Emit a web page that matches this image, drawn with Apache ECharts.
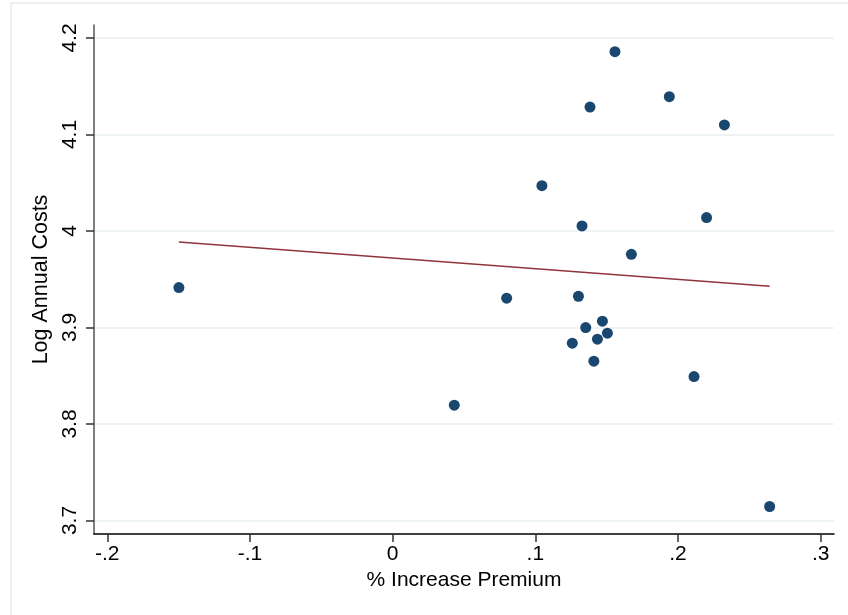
<!DOCTYPE html>
<html>
<head>
<meta charset="utf-8">
<script src="https://cdn.jsdelivr.net/npm/echarts@6/dist/echarts.min.js"></script>
<style>
  html, body { margin: 0; padding: 0; background: #ffffff; }
  #chart { width: 848px; height: 615px; }
</style>
</head>
<body>
<div id="chart"></div>
<script>
// Observations: % increase in premium vs. log annual costs
const premiumIncrease = [0.1558, 0.1383, 0.1939, 0.2325, 0.1046, 0.2200, 0.1327, 0.1673, 0.0799, 0.1302,
                         0.1470, 0.1353, 0.1505, 0.1435, 0.1259, 0.1410, 0.2112, 0.0432, -0.1498, 0.2642];
const logAnnualCosts  = [4.1858, 4.1285, 4.1392, 4.1099, 4.0470, 4.0139, 4.0053, 3.9759, 3.9304, 3.9324,
                         3.9065, 3.8999, 3.8941, 3.8879, 3.8838, 3.8651, 3.8492, 3.8195, 3.9414, 3.7145];

// Fitted line endpoints
const fitPremium = [-0.1498, 0.2642];
const fitCosts   = [3.9887, 3.9428];

// Tick values
const xTicks = [-0.2, -0.1, 0, 0.1, 0.2, 0.3];
const yTicks = [3.7, 3.8, 3.9, 4.0, 4.1, 4.2];

const points = premiumIncrease.map((x, i) => [x, logAnnualCosts[i]]);
const fitLine = fitPremium.map((x, i) => [x, fitCosts[i]]);

// Stata-style number labels: drop the leading zero
const fmt = v => {
  const r = Math.round(v * 10) / 10;
  if (r === 0) return '0';
  return String(r).replace(/^(-?)0\./, '$1.');
};

const FONT = 'Liberation Sans, Arial, sans-serif';

const chart = echarts.init(document.getElementById('chart'), null, { renderer: 'canvas' });
chart.setOption({
  backgroundColor: '#ffffff',
  animation: false,
  graphic: [{
    type: 'rect',
    shape: { x: 11, y: 3, width: 900, height: 700 },
    style: { fill: 'none', stroke: '#e6edf0', lineWidth: 1.5 },
    silent: true,
    z: -10
  }],
  grid: { left: 94, right: 14, top: 25, bottom: 81, containLabel: false },
  xAxis: {
    type: 'value',
    min: -0.2093,
    max: 0.3093,
    name: '% Increase Premium',
    nameLocation: 'middle',
    nameGap: 33,
    nameTextStyle: { fontFamily: FONT, fontSize: 21, color: '#000' },
    axisLine: { show: true, onZero: false, lineStyle: { color: '#000', width: 1.5 } },
    axisTick: { show: true, length: 8, customValues: xTicks, lineStyle: { color: '#333', width: 1.5 } },
    axisLabel: { customValues: xTicks, formatter: fmt, margin: 10, fontFamily: FONT, fontSize: 21, color: '#000' },
    splitLine: { show: false }
  },
  yAxis: {
    type: 'value',
    min: 3.686,
    max: 4.2135,
    name: 'Log Annual Costs',
    nameLocation: 'middle',
    nameGap: 40,
    nameTextStyle: { fontFamily: FONT, fontSize: 21.5, color: '#000' },
    axisLine: { show: true, onZero: false, lineStyle: { color: '#555', width: 1.5 } },
    axisTick: { show: true, length: 8, customValues: yTicks, lineStyle: { color: '#333', width: 1.5 } },
    axisLabel: { customValues: yTicks, formatter: fmt, rotate: 90, margin: 13, fontFamily: FONT, fontSize: 21, color: '#000' },
    splitLine: { show: true, lineStyle: { color: '#e8f0f3', width: 1.5 } }
  },
  series: [
    {
      type: 'scatter',
      data: points,
      symbol: 'circle',
      symbolSize: 11,
      itemStyle: { color: '#1a476f', opacity: 1 },
      z: 3
    },
    {
      type: 'line',
      data: fitLine,
      symbol: 'none',
      lineStyle: { color: '#90353b', width: 1.5 },
      z: 2
    }
  ]
});
</script>
</body>
</html>
